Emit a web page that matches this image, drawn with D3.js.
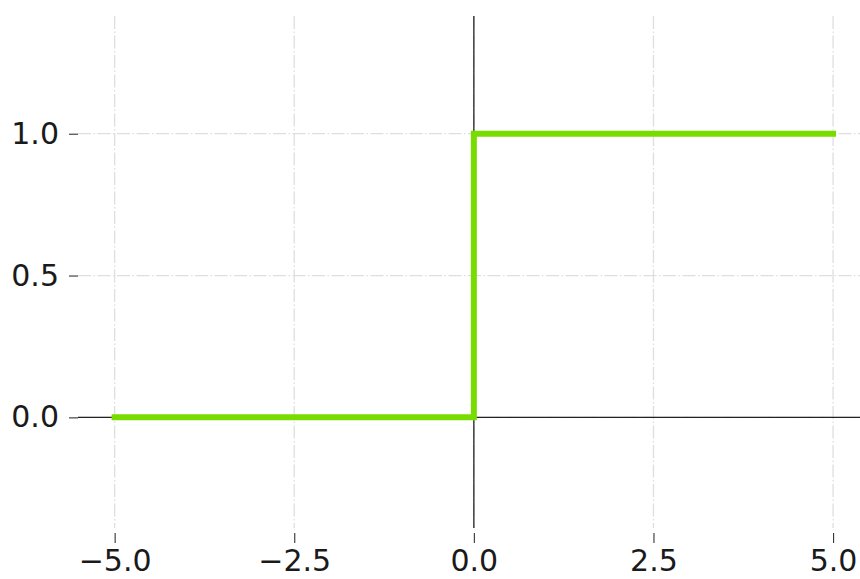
<!DOCTYPE html>
<html>
<head>
<meta charset="utf-8">
<script src="https://cdn.jsdelivr.net/npm/d3@7"></script>
<style>
  html, body { margin: 0; padding: 0; background: #fff; }
  svg { display: block; }
</style>
</head>
<body>
<svg id="chart" width="860" height="579"></svg>
<script>
// Step (Heaviside) function sampled at its corners
const stepX = [-5, 0, 0, 5];
const stepY = [0, 0, 1, 1];
const xTicks = [-5, -2.5, 0, 2.5, 5];
const yTicks = [0, 0.5, 1];
const xDomain = [-5.51, 5.5];
const yDomain = [-0.39, 1.415];

const plotLeft = 78, plotRight = 869, plotTop = 16, plotBottom = 528;

const svg = d3.select("#chart");
const x = d3.scaleLinear().domain(xDomain).range([plotLeft, plotRight]);
const y = d3.scaleLinear().domain(yDomain).range([plotBottom, plotTop]);

const fmt = d => (d < 0 ? "\u2212" : "") + Math.abs(d).toFixed(1);
const font = "'DejaVu Sans', sans-serif";

// dash-dot grid
const grid = svg.append("g").attr("stroke", "#dedede").attr("stroke-width", 1.3)
  .attr("stroke-dasharray", "13,2.5,1.5,2.5").attr("fill", "none");
xTicks.forEach(t => grid.append("line")
  .attr("x1", x(t)).attr("x2", x(t)).attr("y1", plotTop).attr("y2", plotBottom));
yTicks.forEach(t => grid.append("line")
  .attr("x1", plotLeft).attr("x2", plotRight).attr("y1", y(t)).attr("y2", y(t)));

// axis lines through the origin
svg.append("line").attr("x1", plotLeft).attr("x2", plotRight)
  .attr("y1", y(0)).attr("y2", y(0)).attr("stroke", "#222").attr("stroke-width", 1.3);
svg.append("line").attr("x1", x(0)).attr("x2", x(0))
  .attr("y1", plotTop).attr("y2", plotBottom).attr("stroke", "#222").attr("stroke-width", 1.3);

// bottom axis ticks and labels
const xAxis = d3.axisBottom(x).tickValues(xTicks).tickFormat(fmt).tickSize(10).tickPadding(7);
const gx = svg.append("g").attr("transform", `translate(0,${plotBottom + 5})`).call(xAxis);
gx.select(".domain").remove();
gx.selectAll(".tick line").attr("stroke", "#333").attr("stroke-width", 1.1);
gx.selectAll(".tick text").attr("font-family", font).attr("font-size", 30).attr("fill", "#1a1a1a");

// left axis ticks and labels
const yAxis = d3.axisLeft(y).tickValues(yTicks).tickFormat(fmt).tickSize(9).tickPadding(10);
const gy = svg.append("g").attr("transform", `translate(${plotLeft},0)`).call(yAxis);
gy.select(".domain").remove();
gy.selectAll(".tick line").attr("stroke", "#333").attr("stroke-width", 1.1);
gy.selectAll(".tick text").attr("font-family", font).attr("font-size", 30).attr("fill", "#1a1a1a");

// step line
const pts = stepX.map((v, i) => [v, stepY[i]]);
svg.append("path").datum(pts)
  .attr("d", d3.line().x(d => x(d[0])).y(d => y(d[1])))
  .attr("fill", "none").attr("stroke", "#78dc00").attr("stroke-width", 6)
  .attr("stroke-linejoin", "miter").attr("stroke-linecap", "square");
</script>
</body>
</html>
